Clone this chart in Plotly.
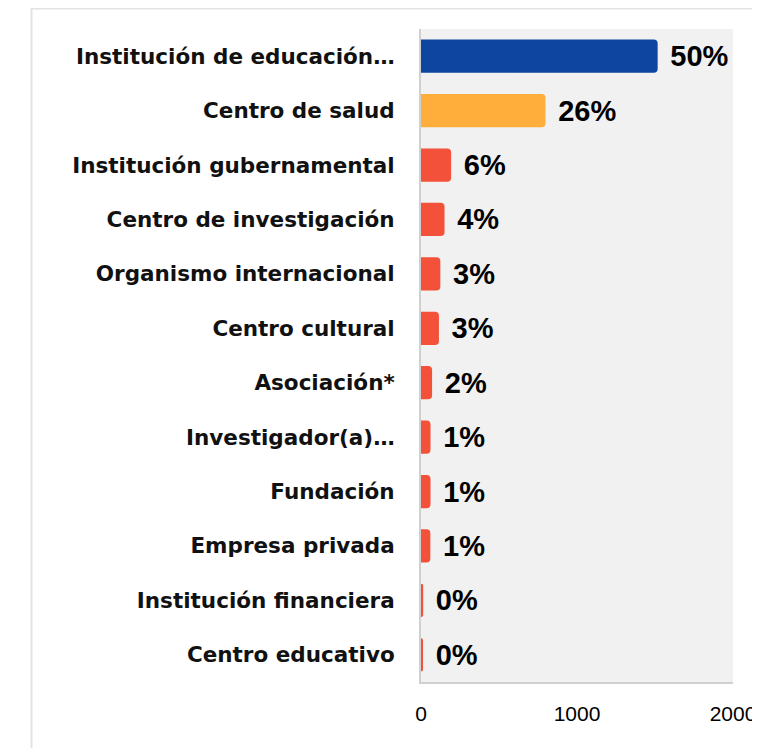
import plotly.graph_objects as go

categories = [
    "Institución de educación…",
    "Centro de salud",
    "Institución gubernamental",
    "Centro de investigación",
    "Organismo internacional",
    "Centro cultural",
    "Asociación*",
    "Investigador(a)…",
    "Fundación",
    "Empresa privada",
    "Institución financiera",
    "Centro educativo",
]
values = [1517, 798, 193, 151, 124, 115, 71, 61, 61, 60, 14, 13]
pct_labels = ["50%", "26%", "6%", "4%", "3%", "3%", "2%", "1%", "1%", "1%", "0%", "0%"]
x_ticks = [0, 1000, 2000]

colors = ["#0E45A0", "#FFAD3B"] + ["#F4513A"] * (len(values) - 2)

# figure is drawn with the page's 8px body offset
W, H = 760, 748
L, T = 413, 21
pw, ph = 318, 653
R = W - L - pw
B = H - T - ph

fig = go.Figure(
    go.Bar(
        x=values,
        y=categories,
        orientation="h",
        marker=dict(color=colors, cornerradius=4, line=dict(width=0)),
        text=["\u2004" + t for t in pct_labels],
        textposition="outside",
        cliponaxis=False,
        textfont=dict(family="Liberation Sans, Arial, sans-serif", size=29, color="#000000", weight="bold"),
        hoverinfo="skip",
    )
)

# card border
fig.add_shape(
    type="rect", xref="paper", yref="paper",
    x0=(16 - L) / pw, x1=(W + 40 - L) / pw,
    y0=-(B + 40) / ph, y1=(H - B - 0.5) / ph,
    line=dict(color="#E3E3E3", width=2), fillcolor="rgba(0,0,0,0)", layer="below",
)

fig.update_layout(
    width=W, height=H,
    margin=dict(l=L, r=R, t=T, b=B, pad=0),
    paper_bgcolor="#FFFFFF",
    plot_bgcolor="#F1F1F1",
    bargap=0.39,
    showlegend=False,
    font=dict(family="Liberation Sans, Arial, sans-serif", color="#000000"),
)
fig.update_xaxes(
    range=[0, 2000], tickvals=x_ticks, ticktext=[str(v) for v in x_ticks],
    showgrid=False, zeroline=False,
    showline=True, linecolor="#D0D0D0", linewidth=2,
    ticks="", ticklabelstandoff=12,
    tickfont=dict(family="Liberation Sans, Arial, sans-serif", size=21, color="#000000"),
)
fig.update_yaxes(
    autorange="reversed", showgrid=False, zeroline=False,
    showline=True, linecolor="#D0D0D0", linewidth=2,
    ticks="", ticklabelstandoff=20,
    tickfont=dict(family="DejaVu Sans, sans-serif", size=21.5, color="#111111", weight="bold"),
)

fig.write_html("out.html")
